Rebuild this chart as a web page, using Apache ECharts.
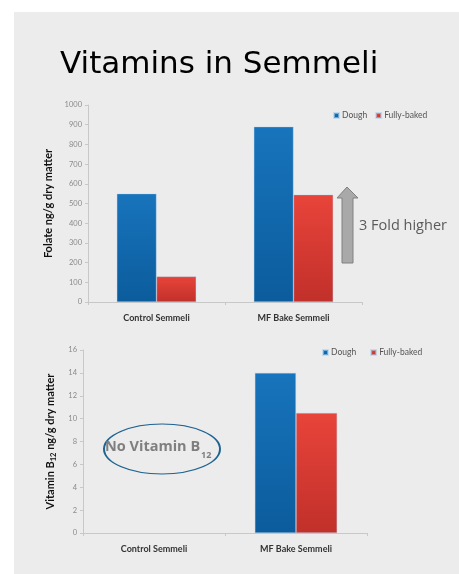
<!DOCTYPE html>
<html><head><meta charset="utf-8">
<script src="https://cdn.jsdelivr.net/npm/echarts@6/dist/echarts.min.js"></script>
<style>html,body{margin:0;padding:0;background:#fff;}#c{width:459px;height:574px;}</style>
</head><body><div id="c"></div>
<script>
const categories = ['Control Semmeli', 'MF Bake Semmeli'];
const seriesNames = ['Dough', 'Fully-baked'];
const folateDough = [550, 890];
const folateBaked = [130, 545];
const b12Dough = [null, 14];
const b12Baked = [null, 10.5];
const folateTicks = {min: 0, max: 1000, interval: 100};
const b12Ticks = {min: 0, max: 16, interval: 2};

const blueGrad = new echarts.graphic.LinearGradient(0, 0, 0, 1, [
  {offset: 0, color: '#1874bc'}, {offset: 1, color: '#0b5c9c'}]);
const redGrad = new echarts.graphic.LinearGradient(0, 0, 0, 1, [
  {offset: 0, color: '#e8443a'}, {offset: 1, color: '#c1302a'}]);

const axisLineStyle = {lineStyle: {color: '#c8c8c8', width: 1}};
const tickLabel = {color: '#8a8a8a', fontSize: 7.5, fontFamily: 'Lato', formatter: v => String(v)};
const catLabel = {color: '#333', fontSize: 9, fontWeight: 'bold', fontFamily: 'Lato'};

function yAxis(idx, ticks, name, nameGap) {
  return {
    type: 'value', gridIndex: idx, min: ticks.min, max: ticks.max, interval: ticks.interval,
    name: name, nameLocation: 'middle', nameGap: nameGap, nameRotate: 90,
    nameTextStyle: {color: '#111', fontSize: 11, fontWeight: 'bold', fontFamily: 'Lato',
      rich: {
        n: {color: '#111', fontSize: 11, fontWeight: 'bold', fontFamily: 'Lato', lineHeight: 14},
        s: {color: '#111', fontSize: 7.5, fontWeight: 'bold', fontFamily: 'Lato', lineHeight: 8, verticalAlign: 'bottom'}
      }},
    axisLine: {show: true, ...axisLineStyle},
    axisTick: {show: true, length: 3, lineStyle: {color: '#c8c8c8'}},
    splitLine: {show: false},
    axisLabel: {...tickLabel, margin: 6}
  };
}
function xAxis(idx) {
  return {
    type: 'category', gridIndex: idx, data: categories,
    axisLine: {show: true, ...axisLineStyle},
    axisTick: {show: true, length: 3, alignWithLabel: false, lineStyle: {color: '#c8c8c8'}},
    axisLabel: {...catLabel, margin: 12}
  };
}
function bar(name, data, idx, color) {
  return {
    type: 'bar', name: name, data: data, xAxisIndex: idx, yAxisIndex: idx,
    barGap: '0%', barCategoryGap: '42%',
    itemStyle: {color: color, borderColor: 'rgba(170,210,240,0.6)', borderWidth: 0.6},
    emphasis: {disabled: true}
  };
}

const chart = echarts.init(document.getElementById('c'));
chart.setOption({
  animation: false,
  backgroundColor: '#ffffff',
  grid: [
    {left: 88, right: 97, top: 105, bottom: 272},
    {left: 83, right: 92, top: 350, bottom: 41}
  ],
  xAxis: [xAxis(0), xAxis(1)],
  yAxis: [
    yAxis(0, folateTicks, 'Folate ng/g dry matter', 33),
    yAxis(1, b12Ticks, '{n|Vitamin B}{s|12}{n| ng/g dry matter}', 21)
  ],
  legend: [
    {data: seriesNames, left: 328, top: 106, itemWidth: 5, itemHeight: 5, itemGap: 8,
     icon: 'rect', textStyle: {color: '#555', fontSize: 8.5, fontFamily: 'Lato', padding: [0, 0, 0, -2]}},
    {data: seriesNames, left: 317, top: 343, itemWidth: 5, itemHeight: 5, itemGap: 14,
     icon: 'rect', textStyle: {color: '#555', fontSize: 8.5, fontFamily: 'Lato', padding: [0, 0, 0, -2]}}
  ],
  series: [
    bar(seriesNames[0], folateDough, 0, blueGrad),
    bar(seriesNames[1], folateBaked, 0, redGrad),
    bar(seriesNames[0], b12Dough, 1, blueGrad),
    bar(seriesNames[1], b12Baked, 1, redGrad)
  ],
  graphic: [
    {type: 'rect', z: -10, silent: true, shape: {x: 14, y: 12, width: 445, height: 562}, style: {fill: '#ececec'}},
    {type: 'text', left: 60, top: 49, style: {text: 'Vitamins in Semmeli', fill: '#000', font: '31px "DejaVu Sans"'}},
    {type: 'polygon', silent: true, shape: {points: [[347, 187], [358, 198], [353, 198], [353, 263], [342, 263], [342, 198], [337, 198]]},
     style: {fill: '#a9a9a9', stroke: '#808080', lineWidth: 1}},
    {type: 'text', left: 359, top: 218, style: {text: '3 Fold higher', fill: '#5a5a5a', font: '14.5px "Open Sans"'}},
    {type: 'circle', silent: true, x: 162, y: 449, scaleY: 25 / 58, shape: {cx: 0, cy: 0, r: 58},
     style: {fill: 'none', stroke: '#1f6391', lineWidth: 2, strokeNoScale: true}},
    {type: 'text', left: 105, top: 439, style: {text: 'No Vitamin B', fill: '#7f7f7f', font: 'bold 14.5px "Open Sans"'}},
    {type: 'text', left: 201, top: 451, style: {text: '12', fill: '#7f7f7f', font: 'bold 9px "Open Sans"'}}
  ]
});
</script></body></html>
